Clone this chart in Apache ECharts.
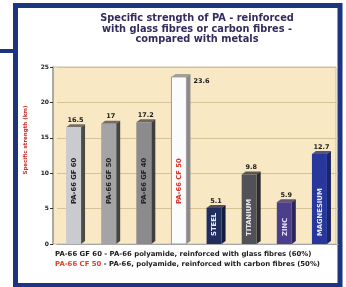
<!DOCTYPE html>
<html>
<head>
<meta charset="utf-8">
<script src="https://cdn.jsdelivr.net/npm/echarts@6/dist/echarts.min.js"></script>
<style>
  html, body { margin: 0; padding: 0; background: #fff; }
  #main { width: 346px; height: 287px; }
</style>
</head>
<body>
<div id="main"></div>
<script>
// bar data
const materials = ['PA-66 GF 60', 'PA-66 GF 50', 'PA-66 GF 40', 'PA-66 CF 50', 'STEEL', 'TITANIUM', 'ZINC', 'MAGNESIUM'];
const strength = [16.5, 17, 17.2, 23.6, 5.1, 9.8, 5.9, 12.7];
const yTicks = [0, 5, 10, 15, 20, 25];

// look of each bar: front colour, side colour, text colour
const faceColors = ['#c9cbcf', '#a4a4a7', '#8b8b8e', '#fbfbfb', '#202d5e', '#505257', '#4b3f8c', '#28379b'];
const sideColors = ['#4a4a4a', '#444', '#3e3e3e', '#8a8a8a', '#141c3c', '#2c2c30', '#2e2658', '#1a2468'];
const textColors = ['#222', '#222', '#222', '#d8352a', '#e8ecf8', '#e8e8ec', '#e6e2f6', '#e8ecfa'];

const FONT = '"DejaVu Sans", "Liberation Sans", Arial';
const chart = echarts.init(document.getElementById('main'));

function renderBar(params, api) {
  const i = api.value(0);
  const top = api.coord([i, api.value(1)]);
  const base = api.coord([i, 0]);
  const w = 15, dx = 4, dy = -3;
  const l = top[0] - w / 2 - 1, r = l + w;
  const isPA = i < 4;
  const children = [
    { type: 'polygon', shape: { points: [[r, top[1]], [r + dx, top[1] + dy], [r + dx, base[1] + dy], [r, base[1]]] },
      style: { fill: sideColors[i] } },
    { type: 'polygon', shape: { points: [[l, top[1]], [r, top[1]], [r + dx, top[1] + dy], [l + dx, top[1] + dy]] },
      style: { fill: sideColors[i], opacity: 0.75 } },
    { type: 'rect', shape: { x: l, y: top[1], width: w, height: base[1] - top[1] },
      style: { fill: faceColors[i], stroke: i === 3 ? '#9a9a9a' : null, lineWidth: 1 } },
    { type: 'text', x: l + w / 2 + 0.5, y: base[1] - (isPA ? 40 : 8), rotation: Math.PI / 2,
      style: { text: materials[i], fill: textColors[i], font: 'bold 6.8px ' + FONT,
        align: 'left', verticalAlign: 'middle' } }
  ];
  const v = api.value(1);
  const high = v > 22;
  children.push({ type: 'text',
    x: high ? r + dx + 3 : l + w / 2 + 2, y: high ? top[1] + 4 : top[1] - 7,
    style: { text: String(v), fill: '#1a1a1a', font: 'bold 6.5px ' + FONT,
      align: high ? 'left' : 'center', verticalAlign: 'middle' } });
  return { type: 'group', children: children };
}

chart.setOption({
  animation: false,
  backgroundColor: '#fff',
  grid: { left: 57, right: 8, top: 67, bottom: 43 },
  xAxis: {
    type: 'category',
    data: materials,
    axisLine: { lineStyle: { color: '#a8a8a8', width: 1 } },
    axisTick: { show: false },
    axisLabel: { show: false }
  },
  yAxis: {
    type: 'value',
    min: 0, max: 25, interval: 5,
    offset: 4,
    axisLine: { show: true, lineStyle: { color: '#9a9a9a', width: 1.5 } },
    axisTick: { show: true, length: 3, lineStyle: { color: '#333' } },
    axisLabel: { color: '#222', fontSize: 6, fontWeight: 'bold', fontFamily: 'DejaVu Sans', margin: 4,
      formatter: v => yTicks.indexOf(v) >= 0 ? String(v) : '' },
    splitLine: { lineStyle: { color: '#d6c295', width: 1 } }
  },
  graphic: [
    // outer frame
    { type: 'rect', z: -20, shape: { x: 15.5, y: 5.5, width: 324.5, height: 280 },
      style: { fill: '#fff', stroke: '#1b3580', lineWidth: 5 } },
    { type: 'rect', z: -20, shape: { x: 0, y: 49, width: 14, height: 4 }, style: { fill: '#1b3580' } },
    // plot background
    { type: 'rect', z: -10, shape: { x: 53, y: 67, width: 283, height: 177 },
      style: { fill: '#f9e8c4', stroke: '#cdbf9f', lineWidth: 1 } },
    { type: 'text', x: 197, y: 13.5, z: 10,
      style: { text: 'Specific strength of PA - reinforced\nwith glass fibres or carbon fibres -\ncompared with metals',
        fill: '#332c5c', font: 'bold 9.8px ' + FONT, align: 'center', verticalAlign: 'top', lineHeight: 10.5 } },
    { type: 'text', x: 26, y: 140, rotation: Math.PI / 2, z: 10,
      style: { text: 'Specific strength (km)', fill: '#c8302a', font: 'bold 5.5px ' + FONT,
        align: 'center', verticalAlign: 'middle' } },
    { type: 'text', x: 55, y: 254, z: 10,
      style: { text: 'PA-66 GF 60 - PA-66 polyamide, reinforced with glass fibres (60%)', fill: '#1a1a1a',
        font: 'bold 6.9px ' + FONT, verticalAlign: 'middle' } },
    { type: 'text', x: 55, y: 264, z: 10,
      style: { text: '{r|PA-66 CF 50} - PA-66, polyamide, reinforced with carbon fibres (50%)', fill: '#1a1a1a',
        font: 'bold 6.9px ' + FONT, verticalAlign: 'middle',
        rich: { r: { fill: '#e0402a', font: 'bold 6.9px ' + FONT } } } }
  ],
  series: [{
    type: 'custom',
    renderItem: renderBar,
    data: strength.map((v, i) => [i, v]),
    encode: { x: 0, y: 1 },
    z: 5
  }]
});
</script>
</body>
</html>
